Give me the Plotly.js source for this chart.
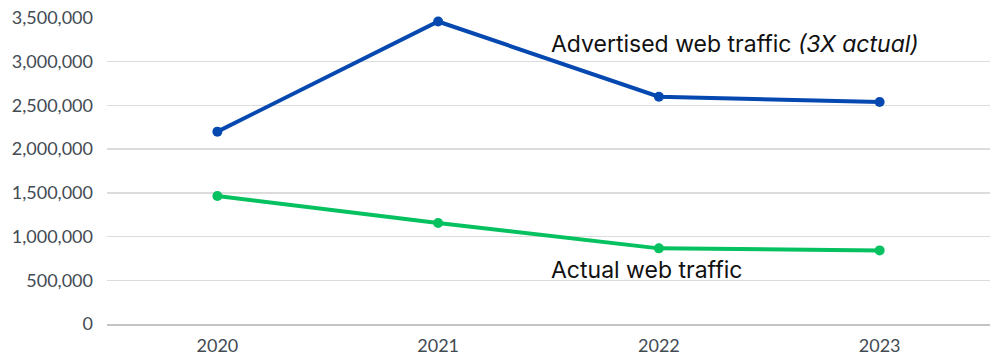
<!DOCTYPE html>
<html>
<head>
<meta charset="utf-8">
<script src="https://cdn.plot.ly/plotly-3.0.1.min.js"></script>
<style>html,body{margin:0;padding:0;background:#fff;}#chart{width:1000px;height:356px;}</style>
</head>
<body>
<div id="chart"></div>
<script>
const years = ['2020', '2021', '2022', '2023'];
const advertisedTraffic = [2200000, 3460000, 2600000, 2540000];
const actualTraffic = [1465000, 1155000, 865000, 842000];
const advertisedLabel = 'Advertised web traffic <i>(3X actual)</i>';
const actualLabel = 'Actual web traffic';
const yTickVals = [0, 500000, 1000000, 1500000, 2000000, 2500000, 3000000, 3500000];
const yTickText = ['0', '500,000', '1,000,000', '1,500,000', '2,000,000', '2,500,000', '3,000,000', '3,500,000'];

const traces = [
  {x: years, y: advertisedTraffic, type: 'scatter', mode: 'lines+markers', cliponaxis: false,
   line: {color: '#0549b0', width: 4}, marker: {color: '#0549b0', size: 10}, name: 'Advertised'},
  {x: years, y: actualTraffic, type: 'scatter', mode: 'lines+markers', cliponaxis: false,
   line: {color: '#05c160', width: 4}, marker: {color: '#05c160', size: 10}, name: 'Actual'}
];

const layout = {
  width: 1000, height: 356,
  margin: {l: 107, r: 10, t: 18, b: 32},
  paper_bgcolor: '#ffffff', plot_bgcolor: '#ffffff',
  showlegend: false,
  font: {family: 'Lato, sans-serif', size: 18, color: '#434b53'},
  xaxis: {
    type: 'category', range: [-0.5, 3.5],
    showgrid: false, zeroline: false,
    showline: true, linecolor: '#c4c4c4', linewidth: 2,
    ticks: '', ticklabelstandoff: 4,
    tickfont: {family: 'Lato, sans-serif', size: 18, color: '#434b53'}
  },
  yaxis: {
    range: [0, 3500000], tickvals: yTickVals, ticktext: yTickText,
    showgrid: true, gridcolor: '#dcdcdc', gridwidth: 1.5,
    zeroline: false, showline: false, ticks: '', ticklabelstandoff: 13,
    tickfont: {family: 'Lato, sans-serif', size: 18, color: '#434b53'}
  },
  annotations: [
    {xref: 'paper', yref: 'paper', x: 0.501, y: 0.916, xanchor: 'left', yanchor: 'middle',
     text: advertisedLabel, showarrow: false,
     font: {family: 'Inter, sans-serif', size: 23, color: '#111111'}},
    {xref: 'paper', yref: 'paper', x: 0.501, y: 0.176, xanchor: 'left', yanchor: 'middle',
     text: actualLabel, showarrow: false,
     font: {family: 'Inter, sans-serif', size: 23, color: '#111111'}}
  ]
};

Plotly.newPlot('chart', traces, layout, {displayModeBar: false, staticPlot: true});
</script>
</body>
</html>
